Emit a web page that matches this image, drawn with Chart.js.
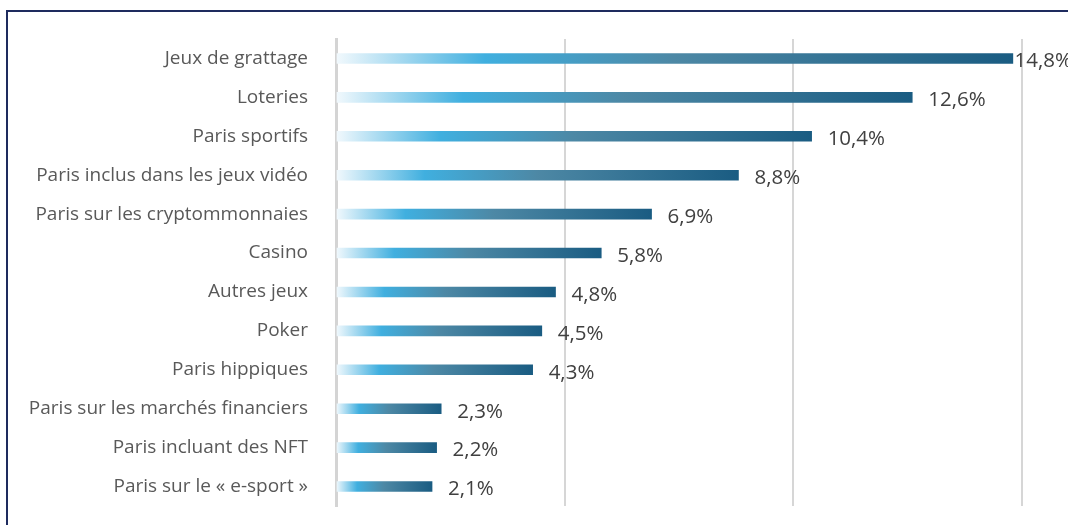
<!DOCTYPE html>
<html>
<head>
<meta charset="utf-8">
<script src="https://cdn.jsdelivr.net/npm/chart.js@4"></script>
<style>
  body { margin: 0; background: #fff; overflow: hidden; }
  #wrap { position: relative; width: 1068px; height: 525px; }
  #frame { position: absolute; left: 6px; top: 10px; width: 1100px; height: 600px;
           border: 2px solid #1e2b5e; box-sizing: border-box; }
  canvas { position: absolute; left: 0; top: 0; }
</style>
</head>
<body>
<div id="wrap">
  <div id="frame"></div>
  <canvas id="chart" width="1068" height="525"></canvas>
</div>
<script>
// categories and values (share in %)
var categories = [
  'Jeux de grattage',
  'Loteries',
  'Paris sportifs',
  'Paris inclus dans les jeux vidéo',
  'Paris sur les cryptommonnaies',
  'Casino',
  'Autres jeux',
  'Poker',
  'Paris hippiques',
  'Paris sur les marchés financiers',
  'Paris incluant des NFT',
  'Paris sur le « e-sport »'
];
var values = [14.8, 12.6, 10.4, 8.8, 6.9, 5.8, 4.8, 4.5, 4.3, 2.3, 2.2, 2.1];
var xTicks = [0, 5, 10, 15];

var FONT = '"Open Sans", sans-serif';

// gradient per bar, from the axis to the end of the bar
function barGradient(context) {
  var chart = context.chart;
  var xs = chart.scales.x;
  if (!chart.chartArea || !xs) return '#3a8fb8';
  var x0 = xs.getPixelForValue(0);
  var x1 = xs.getPixelForValue(context.raw);
  var g = chart.ctx.createLinearGradient(x0, 0, x1, 0);
  g.addColorStop(0, '#f2f9fd');
  g.addColorStop(0.22, '#40afdf');
  g.addColorStop(0.5, '#4d88a5');
  g.addColorStop(1, '#1a5c82');
  return g;
}

// value labels at the end of each bar
var valueLabels = {
  id: 'valueLabels',
  afterDatasetsDraw: function(chart) {
    var ctx = chart.ctx;
    var meta = chart.getDatasetMeta(0);
    ctx.save();
    ctx.font = '20.5px ' + FONT;
    ctx.fillStyle = '#404040';
    ctx.textBaseline = 'middle';
    meta.data.forEach(function(bar, i) {
      var txt = values[i].toString().replace('.', ',') + '%';
      var w = ctx.measureText(txt).width;
      var x = Math.min(bar.x + 16, chart.width - w + 4);
      ctx.fillText(txt, x, bar.y + 3);
    });
    ctx.restore();
  }
};

new Chart(document.getElementById('chart'), {
  type: 'bar',
  data: {
    labels: categories,
    datasets: [{
      data: values,
      backgroundColor: barGradient,
      borderWidth: 0,
      barThickness: 10
    }]
  },
  options: {
    indexAxis: 'y',
    responsive: false,
    animation: false,
    layout: { padding: { left: 0, right: 46, top: 39, bottom: 19 } },
    plugins: { legend: { display: false }, tooltip: { enabled: false } },
    scales: {
      x: {
        min: 0,
        max: 15,
        afterBuildTicks: function(scale) {
          scale.ticks = xTicks.map(function(v) { return { value: v }; });
        },
        afterFit: function(scale) { scale.height = 0; },
        ticks: { display: false },
        grid: { color: '#d6d6d6', lineWidth: 2, drawTicks: false },
        border: { display: false }
      },
      y: {
        afterFit: function(scale) {
          scale.width = 336;
          scale.paddingTop = 0;
          scale.paddingBottom = 0;
        },
        ticks: {
          color: '#595959',
          padding: 28,
          font: { family: FONT, size: 19 }
        },
        grid: { display: false, drawTicks: false },
        border: { color: '#d4d4d4', width: 3 }
      }
    }
  },
  plugins: [valueLabels]
});
</script>
</body>
</html>
